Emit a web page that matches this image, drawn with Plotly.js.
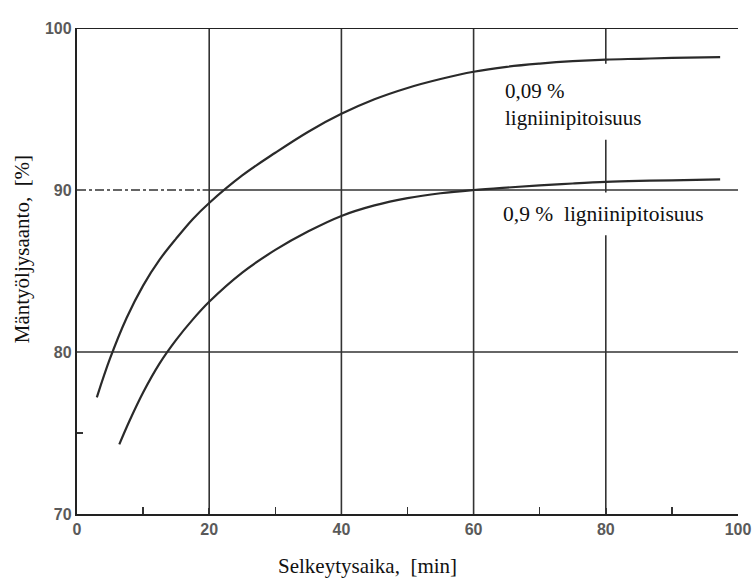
<!DOCTYPE html>
<html><head><meta charset="utf-8">
<script src="https://cdn.plot.ly/plotly-3.0.1.min.js"></script>
<style>html,body{margin:0;padding:0;background:#fff}</style>
</head><body><div id="chart" style="width:754px;height:580px"></div>
<script>
// Data
const lowLigninX = [3.0, 5, 7.5, 10, 12.5, 15, 17.5, 20, 25, 30, 35, 40, 45, 50, 55, 60, 65, 70, 75, 80, 85, 90, 97.3];
const lowLigninY = [77.2, 79.6, 82.1, 84.1, 85.7, 87.0, 88.2, 89.2, 90.9, 92.3, 93.6, 94.7, 95.6, 96.3, 96.85, 97.3, 97.6, 97.8, 97.95, 98.05, 98.1, 98.15, 98.2];
const highLigninX = [6.4, 8, 10, 12.5, 15, 17.5, 20, 25, 30, 35, 40, 45, 50, 55, 60, 65, 70, 75, 80, 85, 90, 97.3];
const highLigninY = [74.3, 75.8, 77.5, 79.3, 80.75, 82.0, 83.1, 84.9, 86.3, 87.45, 88.4, 89.05, 89.5, 89.8, 90.0, 90.15, 90.28, 90.4, 90.5, 90.56, 90.6, 90.65];
const xTickVals = [0, 20, 40, 60, 80, 100];
const xTickText = ['0', '20', '40', '60', '80', '100'];
const xMinorVals = [10, 30, 50, 70, 90];
const yTickVals = [70, 80, 90, 100];
const yTickText = ['70', '80', '90', '100'];
const yMinorVals = [75];
const xGridVals = [20, 40, 60, 80];
const labelLow = '0,09 %<br>ligniinipitoisuus';
const labelHigh = '0,9 %\u00a0\u00a0ligniinipitoisuus';
const xTitle = 'Selkeytysaika,\u00a0\u00a0[min]';
const yTitle = 'Mäntyöljysaanto,\u00a0\u00a0[%]';

const lineColor = '#2a2a2a';
const gridColor = '#333333';

const traces = [
  {x: lowLigninX, y: lowLigninY, type: 'scatter', mode: 'lines',
   line: {color: lineColor, width: 2.2, shape: 'spline', smoothing: 1}, hoverinfo: 'skip'},
  {x: highLigninX, y: highLigninY, type: 'scatter', mode: 'lines',
   line: {color: lineColor, width: 2.2, shape: 'spline', smoothing: 1}, hoverinfo: 'skip'}
];

const shapes = [];
xGridVals.forEach(v => shapes.push({type: 'line', xref: 'x', yref: 'y', x0: v, x1: v, y0: 70, y1: 100,
  layer: 'below', line: {color: gridColor, width: 1.6}}));
shapes.push({type: 'line', xref: 'x', yref: 'y', x0: 0, x1: 100, y0: 80, y1: 80, layer: 'below', line: {color: gridColor, width: 1.6}});
shapes.push({type: 'line', xref: 'x', yref: 'y', x0: 0, x1: 19, y0: 90, y1: 90, layer: 'below', line: {color: gridColor, width: 1.6, dash: 'dashdot'}});
shapes.push({type: 'line', xref: 'x', yref: 'y', x0: 19, x1: 100, y0: 90, y1: 90, layer: 'below', line: {color: gridColor, width: 1.6}});
shapes.push({type: 'line', xref: 'x', yref: 'y', x0: 0, x1: 100, y0: 100, y1: 100, layer: 'below', line: {color: '#222', width: 2.2}});
// white patches behind the labels (hide the grid line, not the curves)
shapes.push({type: 'rect', xref: 'x', yref: 'y', x0: 66, x1: 94, y0: 93.1, y1: 97.8, layer: 'below', line: {width: 0}, fillcolor: '#fff'});
shapes.push({type: 'rect', xref: 'x', yref: 'y', x0: 66, x1: 98, y0: 87.2, y1: 89.85, layer: 'below', line: {width: 0}, fillcolor: '#fff'});

const serif = 'Liberation Serif, Times New Roman, serif';
const tickFont = {family: 'Liberation Sans, Arial, sans-serif', size: 16, color: '#5a5a5a', weight: 'bold'};

const layout = {
  width: 754, height: 580,
  margin: {l: 77, r: 16, t: 28, b: 66},
  paper_bgcolor: '#fff', plot_bgcolor: '#fff',
  showlegend: false,
  xaxis: {range: [0, 100], tickmode: 'array', tickvals: xTickVals, ticktext: xTickText,
    showgrid: false, zeroline: false, showline: true, linecolor: '#222', linewidth: 2.2,
    ticks: 'inside', ticklen: 6, tickwidth: 1.5, tickcolor: '#333', tickfont: tickFont,
    minor: {tickmode: 'array', tickvals: xMinorVals, ticks: 'inside', ticklen: 7, tickwidth: 1.5, tickcolor: '#333', showgrid: false}},
  yaxis: {range: [70, 100], tickmode: 'array', tickvals: yTickVals, ticktext: yTickText,
    showgrid: false, zeroline: false, showline: true, linecolor: '#222', linewidth: 2.2,
    ticks: '', tickfont: tickFont,
    minor: {tickmode: 'array', tickvals: yMinorVals, ticks: 'inside', ticklen: 6, tickwidth: 1.5, tickcolor: '#333', showgrid: false}},
  shapes: shapes,
  annotations: [
    {text: labelLow, xref: 'x', yref: 'y', x: 64.5, y: 96.95, xanchor: 'left', yanchor: 'top', align: 'left',
     showarrow: false, font: {family: serif, size: 21, color: '#111'}},
    {text: labelHigh, xref: 'x', yref: 'y', x: 64.2, y: 88.5, xanchor: 'left', yanchor: 'middle', align: 'left',
     showarrow: false, font: {family: serif, size: 21.5, color: '#111'}},
    {text: xTitle, xref: 'paper', yref: 'paper', x: 0.44, y: -0.108, xanchor: 'center', yanchor: 'middle',
     showarrow: false, font: {family: serif, size: 21, color: '#111'}},
    {text: yTitle, xref: 'paper', yref: 'paper', x: -0.083, y: 0.545, xanchor: 'center', yanchor: 'middle',
     textangle: -90, showarrow: false, font: {family: serif, size: 21, color: '#111'}}
  ]
};

Plotly.newPlot('chart', traces, layout, {displayModeBar: false, staticPlot: true});
</script>
</body></html>
